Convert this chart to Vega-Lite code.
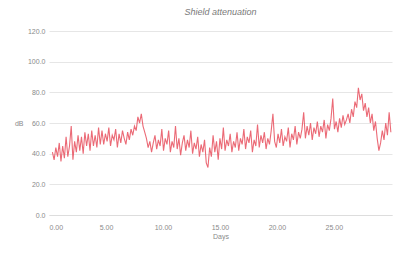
{
  "$schema": "https://vega.github.io/schema/vega-lite/v6.json",
  "autosize": {"type": "none"},
  "width": 343,
  "height": 184,
  "padding": {"left": 49, "top": 31, "right": 21, "bottom": 49},
  "background": "#ffffff",
  "config": {
    "view": {"stroke": null},
    "font": "Liberation Sans",
    "axis": {"labelColor": "#8a8a8a", "titleColor": "#8a8a8a", "labelFontSize": 7, "titleFontSize": 7, "titleFontWeight": "normal"}
  },
  "title": {"text": "Shield attenuation", "fontSize": 9, "fontWeight": "normal", "fontStyle": "italic", "color": "#7a7a7a", "offset": 10},
  "data": {"values": [
    {"t":0.3,"v":41},{"t":0.45,"v":36},{"t":0.6,"v":44},{"t":0.75,"v":38},{"t":0.9,"v":47},{"t":1.05,"v":35},
    {"t":1.2,"v":45},{"t":1.35,"v":37},{"t":1.5,"v":51},{"t":1.65,"v":38},{"t":1.8,"v":45},{"t":1.95,"v":58},
    {"t":2.1,"v":36},{"t":2.25,"v":48},{"t":2.4,"v":41},{"t":2.55,"v":52},{"t":2.7,"v":42},{"t":2.85,"v":51},
    {"t":3.0,"v":40},{"t":3.15,"v":54},{"t":3.3,"v":45},{"t":3.45,"v":53},{"t":3.6,"v":42},{"t":3.75,"v":55},
    {"t":3.9,"v":45},{"t":4.05,"v":52},{"t":4.2,"v":44},{"t":4.35,"v":57},{"t":4.5,"v":46},
    {"t":4.65,"v":55},{"t":4.8,"v":46},{"t":4.95,"v":53},{"t":5.1,"v":48},{"t":5.25,"v":57},{"t":5.4,"v":45},
    {"t":5.55,"v":52},{"t":5.7,"v":49},{"t":5.85,"v":56},{"t":6.0,"v":44},{"t":6.15,"v":53},{"t":6.3,"v":47},
    {"t":6.45,"v":55},{"t":6.6,"v":50},{"t":6.75,"v":46},{"t":6.9,"v":54},{"t":7.05,"v":49},{"t":7.2,"v":56},
    {"t":7.35,"v":52},{"t":7.5,"v":58},{"t":7.65,"v":55},{"t":7.8,"v":64},{"t":7.95,"v":60},{"t":8.1,"v":66},
    {"t":8.25,"v":58},{"t":8.4,"v":54},{"t":8.55,"v":50},{"t":8.7,"v":44},{"t":8.85,"v":48},{"t":9.0,"v":41},
    {"t":9.15,"v":47},{"t":9.3,"v":52},{"t":9.45,"v":43},{"t":9.6,"v":49},{"t":9.75,"v":45},{"t":9.9,"v":56},
    {"t":10.05,"v":42},{"t":10.2,"v":50},{"t":10.35,"v":46},{"t":10.5,"v":55},{"t":10.65,"v":41},{"t":10.8,"v":48},
    {"t":10.95,"v":44},{"t":11.1,"v":58},{"t":11.25,"v":43},{"t":11.4,"v":50},{"t":11.55,"v":39},{"t":11.7,"v":47},
    {"t":11.85,"v":52},{"t":12.0,"v":42},{"t":12.15,"v":49},{"t":12.3,"v":44},{"t":12.45,"v":55},{"t":12.6,"v":40},
    {"t":12.75,"v":47},{"t":12.9,"v":43},{"t":13.05,"v":51},{"t":13.2,"v":38},{"t":13.35,"v":46},{"t":13.5,"v":41},
    {"t":13.65,"v":49},{"t":13.8,"v":34},{"t":13.95,"v":31},{"t":14.1,"v":44},{"t":14.25,"v":38},{"t":14.4,"v":52},
    {"t":14.55,"v":41},{"t":14.7,"v":48},{"t":14.85,"v":36},{"t":15.0,"v":50},{"t":15.15,"v":43},{"t":15.3,"v":57},
    {"t":15.45,"v":42},{"t":15.6,"v":49},{"t":15.75,"v":45},{"t":15.9,"v":53},{"t":16.05,"v":41},
    {"t":16.2,"v":48},{"t":16.35,"v":44},{"t":16.5,"v":54},{"t":16.65,"v":42},{"t":16.8,"v":50},{"t":16.95,"v":46},
    {"t":17.1,"v":56},{"t":17.25,"v":43},{"t":17.4,"v":51},{"t":17.55,"v":47},{"t":17.7,"v":55},{"t":17.85,"v":41},
    {"t":18.0,"v":49},{"t":18.15,"v":45},{"t":18.3,"v":59},{"t":18.45,"v":44},{"t":18.6,"v":52},{"t":18.75,"v":47},
    {"t":18.9,"v":54},{"t":19.05,"v":43},{"t":19.2,"v":50},{"t":19.35,"v":46},{"t":19.5,"v":55},{"t":19.65,"v":66},
    {"t":19.8,"v":48},{"t":19.95,"v":44},{"t":20.1,"v":53},{"t":20.25,"v":47},{"t":20.4,"v":56},{"t":20.55,"v":45},
    {"t":20.7,"v":51},{"t":20.85,"v":48},{"t":21.0,"v":57},{"t":21.15,"v":44},{"t":21.3,"v":53},{"t":21.45,"v":49},
    {"t":21.6,"v":58},{"t":21.75,"v":46},{"t":21.9,"v":54},{"t":22.05,"v":50},
    {"t":22.2,"v":56},{"t":22.35,"v":67},{"t":22.5,"v":50},{"t":22.65,"v":58},{"t":22.8,"v":52},{"t":22.95,"v":60},
    {"t":23.1,"v":49},{"t":23.25,"v":57},{"t":23.4,"v":53},{"t":23.55,"v":61},{"t":23.7,"v":51},{"t":23.85,"v":58},
    {"t":24.0,"v":54},{"t":24.15,"v":62},{"t":24.3,"v":50},{"t":24.45,"v":59},{"t":24.6,"v":55},{"t":24.75,"v":63},
    {"t":24.9,"v":76},{"t":25.05,"v":56},{"t":25.2,"v":61},{"t":25.35,"v":54},{"t":25.5,"v":63},{"t":25.65,"v":57},
    {"t":25.8,"v":65},{"t":25.95,"v":59},{"t":26.1,"v":62},{"t":26.25,"v":66},{"t":26.4,"v":60},{"t":26.55,"v":69},
    {"t":26.7,"v":64},{"t":26.85,"v":74},{"t":27.0,"v":70},{"t":27.15,"v":83},{"t":27.3,"v":75},{"t":27.45,"v":79},
    {"t":27.6,"v":68},{"t":27.75,"v":73},{"t":27.9,"v":64},{"t":28.05,"v":70},{"t":28.2,"v":60},{"t":28.35,"v":66},
    {"t":28.5,"v":55},{"t":28.65,"v":61},{"t":28.8,"v":50},{"t":28.95,"v":42},{"t":29.1,"v":47},{"t":29.25,"v":55},
    {"t":29.4,"v":49},{"t":29.55,"v":60},{"t":29.7,"v":52},{"t":29.85,"v":67},{"t":30.0,"v":54}
  ]},
  "mark": {"type": "line", "color": "#e8505e", "strokeWidth": 1.1, "opacity": 0.85},
  "encoding": {
    "x": {"field": "t", "type": "quantitative", "title": "Days",
      "scale": {"domain": [0, 30.1], "nice": false, "zero": false},
      "axis": {"values": [0, 5, 10, 15, 20, 25], "format": ".2f", "grid": false, "ticks": false, "domain": true, "domainColor": "#dddddd", "labelPadding": 8, "titlePadding": 2}},
    "y": {"field": "v", "type": "quantitative", "title": "dB",
      "scale": {"domain": [0, 120], "nice": false},
      "axis": {"values": [0, 20, 40, 60, 80, 100, 120], "format": ".1f", "grid": true, "gridColor": "#e6e6e6", "ticks": false, "domain": false, "labelPadding": 4, "titleAngle": 0, "titleX": -26, "titleY": 92, "titleAlign": "right", "titleBaseline": "middle"}}
  }
}
